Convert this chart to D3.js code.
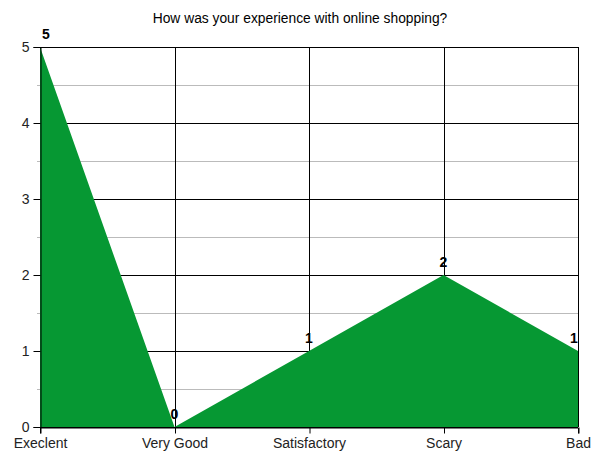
<!DOCTYPE html>
<html><head><meta charset="utf-8">
<script src="https://cdn.jsdelivr.net/npm/d3@7"></script>
<style>body{margin:0;background:#fff}svg{display:block}text{font-family:"Liberation Sans",Arial,sans-serif}</style>
</head><body><svg id="c" width="600" height="463"></svg>
<script>
const categories = ["Execlent","Very Good","Satisfactory","Scary","Bad"];
const values = [5,0,1,2,1];
const yTicks = [0,1,2,3,4,5];
const yMinor = [0.5,1.5,2.5,3.5,4.5];
const title = "How was your experience with online shopping?";

const svg = d3.select("#c");
const m = {l:40, r:22, t:47, b:36};
const W = 600, H = 463;
const x = d3.scalePoint().domain(categories).range([m.l, W - m.r]);
const y = d3.scaleLinear().domain([0,5]).range([H - m.b, m.t]);

// minor gridlines
svg.append("g").selectAll("line").data(yMinor).join("line")
  .attr("x1", m.l - 3).attr("x2", W - m.r)
  .attr("y1", d => y(d) + 0.5).attr("y2", d => y(d) + 0.5)
  .attr("stroke", "#bbb").attr("stroke-width", 1);
// major horizontal gridlines
svg.append("g").selectAll("line").data(yTicks).join("line")
  .attr("x1", m.l).attr("x2", W - m.r)
  .attr("y1", d => y(d) + 0.5).attr("y2", d => y(d) + 0.5)
  .attr("stroke", "#000").attr("stroke-width", 1);
// vertical gridlines
svg.append("g").selectAll("line").data(categories).join("line")
  .attr("x1", d => Math.round(x(d)) + 0.5).attr("x2", d => Math.round(x(d)) + 0.5)
  .attr("y1", m.t).attr("y2", H - m.b)
  .attr("stroke", "#000").attr("stroke-width", 1);

// area
const area = d3.area().x((d,i) => x(categories[i])).y0(y(0)).y1(d => y(d));
svg.append("path").datum(values).attr("d", area).attr("fill", "#069833");

// axes
const yAxis = svg.append("g").attr("transform", `translate(${m.l + 0.5},0)`)
  .call(d3.axisLeft(y).tickValues(yTicks).tickSize(7).tickPadding(4).tickFormat(d3.format("d")));
yAxis.select(".domain").attr("stroke", "#000");
yAxis.selectAll("text").attr("font-size", 14).attr("fill", "#222").attr("font-family", "Liberation Sans, Arial, sans-serif");

const xAxis = svg.append("g").attr("transform", `translate(0,${H - m.b + 0.5})`)
  .call(d3.axisBottom(x).tickSize(6).tickPadding(5));
xAxis.select(".domain").attr("stroke", "#000");
xAxis.selectAll(".tick line").attr("transform", "translate(0.5,0)");
xAxis.selectAll("text").attr("font-size", 14).attr("fill", "#222").attr("font-family", "Liberation Sans, Arial, sans-serif");

// value labels
svg.append("g").selectAll("text").data(values).join("text")
  .attr("x", (d,i) => Math.min(Math.max(x(categories[i]), m.l + 6), W - m.r - 4))
  .attr("y", d => y(d) - 8)
  .attr("text-anchor", "middle")
  .attr("font-size", 14).attr("font-weight", "bold").attr("fill", "#000")
  .text(d => d);

// title
svg.append("text").attr("x", 300).attr("y", 23).attr("text-anchor", "middle")
  .attr("font-size", 13.8).attr("fill", "#000").text(title);
</script></body></html>
